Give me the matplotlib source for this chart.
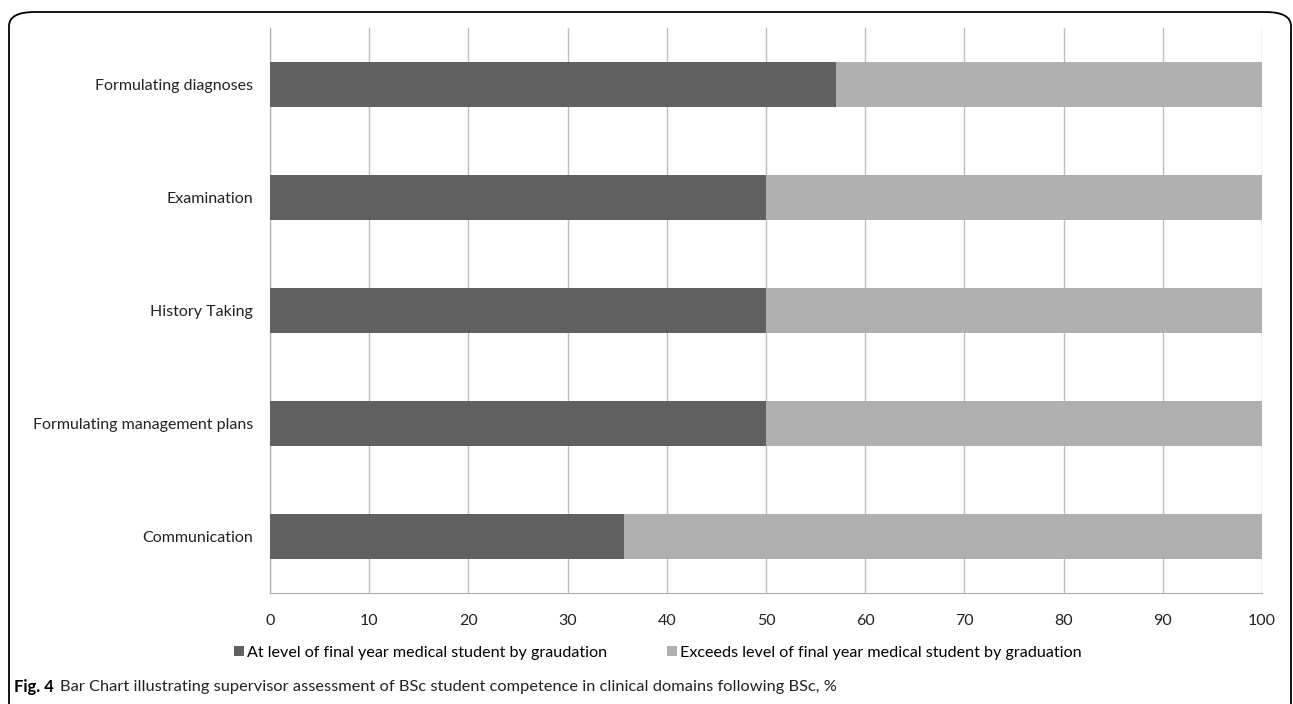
import matplotlib.pyplot as plt
from matplotlib.patches import FancyBboxPatch

categories = ["Communication", "Formulating management plans", "History Taking",
              "Examination", "Formulating diagnoses"]
at_level = [35.7, 50.0, 50.0, 50.0, 57.1]
exceeds = [64.3, 50.0, 50.0, 50.0, 42.9]
series_names = ["At level of final year medical student by graudation",
                "Exceeds level of final year medical student by graduation"]
x_ticks = [0, 10, 20, 30, 40, 50, 60, 70, 80, 90, 100]

plt.rcParams['font.family'] = ['Lato', 'DejaVu Sans']

fig = plt.figure(figsize=(12.93, 7.04), dpi=100)

# rounded frame round the figure, open at the bottom
frame = FancyBboxPatch((9 / 1293, -0.1), (1291 - 9) / 1293, 0.1 + (704 - 12) / 704,
                       boxstyle="round,pad=0,rounding_size=0.02",
                       transform=fig.transFigure, fill=False, ec='black', lw=1.3)
fig.patches.append(frame)

ax = fig.add_axes([270 / 1293, 1 - 593 / 704, (1262 - 270) / 1293, (593 - 28) / 704])
pos = range(len(categories))
ax.barh(pos, at_level, height=0.4, color='#606060', label=series_names[0], zorder=3)
ax.barh(pos, exceeds, left=at_level, height=0.4, color='#b0b0b0', label=series_names[1], zorder=3)

ax.set_xlim(0, 100)
ax.set_ylim(-0.5, len(categories) - 0.5)
ax.set_xticks(x_ticks)
ax.set_yticks(list(pos))
ax.set_yticklabels(categories, fontsize=11.5, color='#222222')
ax.tick_params(axis='x', labelsize=11.5, colors='#222222', length=0, pad=15)
ax.tick_params(axis='y', length=0, pad=12)
ax.grid(axis='x', color='#bdbdbd', lw=1, zorder=0)
for side in ['top', 'right']:
    ax.spines[side].set_visible(False)
for side in ['left', 'bottom']:
    ax.spines[side].set_color('#aaaaaa')

ax.legend(loc='center', bbox_to_anchor=(0.391, -0.106), ncol=2, frameon=False,
          fontsize=11.6, handlelength=0.6, handleheight=0.6, handletextpad=0.2,
          columnspacing=3.7, borderaxespad=0, borderpad=0)

fig.text(14 / 1293, 1 - 687 / 704, "Fig. 4", fontsize=12, fontweight='bold', va='center')
fig.text(60 / 1293, 1 - 687 / 704,
         "Bar Chart illustrating supervisor assessment of BSc student competence in clinical domains following BSc, %",
         fontsize=11.8, va='center', color='#222222')

fig.savefig("out.png", dpi=100)
